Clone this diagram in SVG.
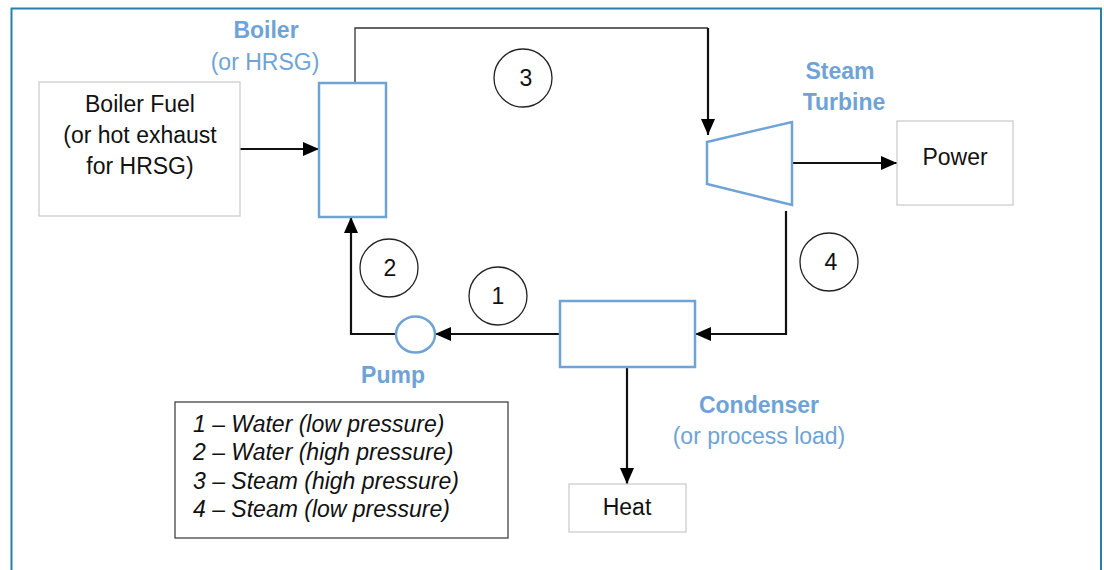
<svg xmlns="http://www.w3.org/2000/svg" width="1104" height="570" viewBox="0 0 1104 570">
<style>
text{font-family:"Liberation Sans",Arial,sans-serif;font-size:23px;fill:#111}
.lbl{fill:#6fa3d5;text-anchor:middle}
.b{font-weight:bold}
.c{text-anchor:middle}
.box{fill:#fff;stroke:#c8c8c8;stroke-width:1.2}
.eq{fill:#fff;stroke:#6fa3d5;stroke-width:2.5}
.num{fill:none;stroke:#222;stroke-width:1.3}
.wire{fill:none;stroke:#111;stroke-width:2.2}
.leg{font-style:italic}
</style>
<defs>
<marker id="ah" viewBox="0 0 16 14" refX="16" refY="7" markerWidth="16" markerHeight="14" markerUnits="userSpaceOnUse" orient="auto">
<path d="M0,0 L16,7 L0,14 Z" fill="#000"/>
</marker>
</defs>
<rect width="1104" height="570" fill="#fff"/>
<path d="M11.5,575 V8.5 H1101 V575" fill="none" stroke="#2a7fa8" stroke-width="2"/>

<g id="connectors">
<path d="M355,83 V28 H708" fill="none" stroke="#333" stroke-width="1.3"/>
<path class="wire" d="M708,28 V135" marker-end="url(#ah)"/>
<path class="wire" d="M240,149 H319" marker-end="url(#ah)"/>
<path class="wire" d="M792,163 H897" marker-end="url(#ah)"/>
<path class="wire" d="M786,211 V334 H695" marker-end="url(#ah)"/>
<path class="wire" d="M560,334 H435" marker-end="url(#ah)"/>
<path class="wire" d="M396,334 H351 V217" marker-end="url(#ah)"/>
<path class="wire" d="M627,367 V484" marker-end="url(#ah)"/>
</g>

<g id="fuel">
<rect class="box" x="39" y="82" width="201" height="134"/>
<text class="c" x="140" y="112">Boiler Fuel</text>
<text class="c" x="140" y="143">(or hot exhaust</text>
<text class="c" x="140" y="174">for HRSG)</text>
</g>

<g id="boiler">
<rect class="eq" x="319" y="83" width="67" height="134"/>
<text class="lbl b" x="266" y="38">Boiler</text>
<text class="lbl" x="265" y="70">(or HRSG)</text>
</g>

<g id="turbine">
<polygon class="eq" points="707,142 792,122 792,205 707,184"/>
<text class="lbl b" x="840" y="79">Steam</text>
<text class="lbl b" x="844" y="110">Turbine</text>
</g>

<g id="power">
<rect class="box" x="897" y="121" width="116" height="84"/>
<text class="c" x="955" y="165">Power</text>
</g>

<g id="condenser">
<rect class="eq" x="560" y="301" width="135" height="66"/>
<text class="lbl b" x="759" y="413">Condenser</text>
<text class="lbl" x="759" y="444">(or process load)</text>
</g>

<g id="pump">
<ellipse class="eq" cx="415.5" cy="334.5" rx="19.5" ry="18"/>
<text class="lbl b" x="393" y="383">Pump</text>
</g>

<g id="heat">
<rect class="box" x="569" y="484" width="117" height="48"/>
<text class="c" x="627" y="515">Heat</text>
</g>

<g id="s1"><circle class="num" cx="498" cy="296" r="29"/><text class="c" x="498" y="304">1</text></g>
<g id="s2"><circle class="num" cx="389" cy="268" r="29"/><text class="c" x="390" y="276">2</text></g>
<g id="s3"><circle class="num" cx="523" cy="78" r="29"/><text class="c" x="526" y="86">3</text></g>
<g id="s4"><circle class="num" cx="829" cy="262" r="29"/><text class="c" x="831" y="270">4</text></g>

<g id="legend">
<rect x="175" y="402" width="333" height="136" fill="#fff" stroke="#444" stroke-width="1.3"/>
<text class="leg" x="193" y="432">1 – Water (low pressure)</text>
<text class="leg" x="193" y="460">2 – Water (high pressure)</text>
<text class="leg" x="193" y="489">3 – Steam (high pressure)</text>
<text class="leg" x="193" y="517">4 – Steam (low pressure)</text>
</g>
</svg>
